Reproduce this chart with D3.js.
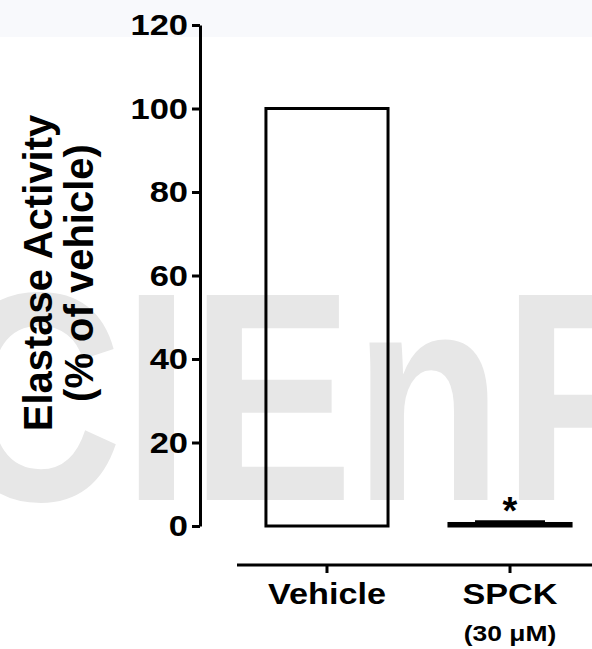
<!DOCTYPE html>
<html>
<head>
<meta charset="utf-8">
<script src="https://d3js.org/d3.v7.min.js"></script>
<style>
  body { margin: 0; background: #fff; }
  text { font-family: "Liberation Sans", Arial, sans-serif; font-weight: bold; fill: #000; }
</style>
</head>
<body>
<script>
// data
const categories = ["Vehicle", "SPCK"];
const subLabels = ["", "(30 μM)"];
const values = [100, 0.6];
const errors = [0, 0.4];
const marks = ["", "*"];
const yTicks = [0, 20, 40, 60, 80, 100, 120];

const W = 592, H = 649;
const svg = d3.select("body").append("svg")
    .attr("width", W)
    .attr("height", H);

// faint tint at the top of the picture
svg.append("rect").attr("x", 0).attr("y", 0).attr("width", W).attr("height", 37).attr("fill", "#f8f9fc");

// watermark (narrowed bold sans)
svg.append("text")
    .attr("transform", "translate(-54,500) scale(0.82,1)")
    .style("font-size", "298px")
    .style("letter-spacing", "0px")
    .style("fill", "#e7e7e7")
    .text("CIEnP");

const y = d3.scaleLinear().domain([0, 120]).range([526, 25]);
const x = d3.scaleBand().domain(categories).range([205, 632]).paddingInner(0.333).paddingOuter(0.333);

const table = categories.map((c, i) => ({ cat: c, value: values[i], err: errors[i], mark: marks[i], sub: subLabels[i] }));

// y axis
const yAxis = svg.append("g")
    .attr("transform", "translate(200,0)")
    .call(d3.axisLeft(y).tickValues(yTicks).tickSize(8).tickSizeOuter(0).tickPadding(4));
yAxis.select(".domain").attr("stroke-width", 3);
yAxis.selectAll(".tick line").attr("stroke-width", 3);
yAxis.selectAll(".tick text")
    .style("font-size", "30px")
    .attr("x", -12 / 1.15)
    .attr("transform", "scale(1.15,1)");

// bars
svg.selectAll("rect.bar").data(table).join("rect")
    .attr("class", "bar")
    .attr("x", d => x(d.cat))
    .attr("y", d => y(d.value))
    .attr("width", x.bandwidth())
    .attr("height", d => y(0) - y(d.value))
    .attr("fill", "none")
    .attr("stroke", "#000")
    .attr("stroke-width", 3);

// error caps
svg.selectAll("line.err").data(table.filter(d => d.err > 0)).join("line")
    .attr("class", "err")
    .attr("x1", d => x(d.cat) + x.bandwidth() / 2 - 35)
    .attr("x2", d => x(d.cat) + x.bandwidth() / 2 + 35)
    .attr("y1", d => y(d.value + d.err))
    .attr("y2", d => y(d.value + d.err))
    .attr("stroke", "#000")
    .attr("stroke-width", 3);

// significance marks
svg.selectAll("text.mark").data(table).join("text")
    .attr("class", "mark")
    .attr("x", d => x(d.cat) + x.bandwidth() / 2)
    .attr("y", d => y(d.value + d.err) + 2)
    .attr("text-anchor", "middle")
    .style("font-size", "38px")
    .text(d => d.mark);

// x axis
const xAxis = svg.append("g")
    .attr("transform", "translate(0,565)")
    .call(d3.axisBottom(x).tickSize(8).tickSizeOuter(0).tickFormat(""));
xAxis.select(".domain").remove();
xAxis.selectAll(".tick line").attr("stroke-width", 3);
xAxis.append("line")
    .attr("x1", 237).attr("x2", W)
    .attr("stroke", "#000").attr("stroke-width", 3);

svg.selectAll("text.cat").data(table).join("text")
    .attr("class", "cat")
    .attr("transform", d => `translate(${x(d.cat) + x.bandwidth() / 2},604) scale(1.14,1)`)
    .attr("text-anchor", "middle")
    .style("font-size", "30px")
    .text(d => d.cat);

svg.selectAll("text.sub").data(table).join("text")
    .attr("class", "sub")
    .attr("transform", d => `translate(${x(d.cat) + x.bandwidth() / 2},641) scale(1.2,1)`)
    .attr("text-anchor", "middle")
    .style("font-size", "22px")
    .text(d => d.sub);

// y title
const title = ["Elastase Activity", "(% of vehicle)"];
svg.selectAll("text.ytitle").data(title).join("text")
    .attr("class", "ytitle")
    .attr("transform", (d, i) => `translate(${i ? 93 : 52},273) rotate(-90)`)
    .attr("text-anchor", "middle")
    .style("font-size", "40px")
    .text(d => d);
</script>
</body>
</html>
